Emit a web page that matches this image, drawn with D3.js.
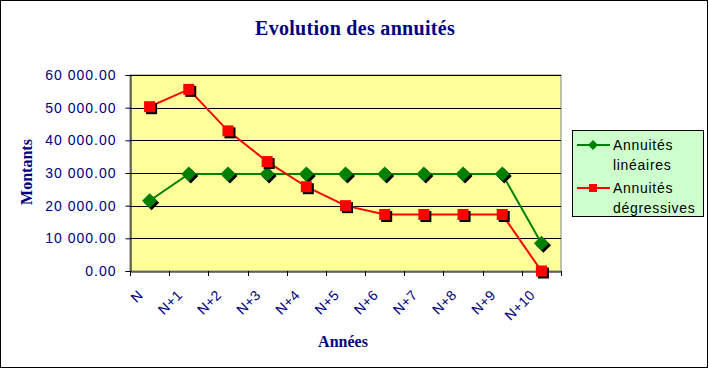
<!DOCTYPE html>
<html><head><meta charset="utf-8">
<script src="https://cdn.jsdelivr.net/npm/d3@7"></script>
<style>body{margin:0;background:#fff}</style>
</head><body><svg id="c" width="709" height="370"></svg>
<script>
const categories = ["N","N+1","N+2","N+3","N+4","N+5","N+6","N+7","N+8","N+9","N+10"];
const lineaires = [21500,29700,29700,29700,29700,29700,29700,29700,29700,29700,8500];
const degressives = [50300,55600,42900,33500,25800,20000,17300,17300,17300,17300,0];
const yTicks = [0,10000,20000,30000,40000,50000,60000];
const seriesNames = [["Annuités","linéaires"],["Annuités","dégressives"]];

const svg = d3.select("#c");
const navy = "#000080";
const sans = "Arial, 'Liberation Sans', sans-serif";
const serif = "'Liberation Serif','Times New Roman',serif";
svg.append("rect").attr("x",0.5).attr("y",0.5).attr("width",707).attr("height",367)
  .attr("fill","#fff").attr("stroke","#000").attr("stroke-width",1);

const L=130,R=561,T=75,B=271;
const x = d3.scaleBand().domain(categories).range([L,R]);
const y = d3.scaleLinear().domain([0,60000]).range([B,T]);

svg.append("rect").attr("x",L).attr("y",T).attr("width",R-L).attr("height",B-T)
  .attr("fill","#FFFF99").attr("stroke","#808080");

svg.append("g").selectAll("line").data(yTicks.slice(1)).join("line")
  .attr("x1",L).attr("x2",R).attr("y1",d=>Math.round(y(d))+0.5).attr("y2",d=>Math.round(y(d))+0.5)
  .attr("stroke","#000");

const fmt = v => d3.format(",.2f")(v).replace(/,/g," ");
const ya = svg.append("g").attr("transform",`translate(${L+0.5},0)`)
  .call(d3.axisLeft(y).tickValues(yTicks).tickFormat(fmt).tickSize(5).tickPadding(10));
ya.select(".domain").attr("stroke","#000");
ya.selectAll(".tick line").attr("stroke","#000");
ya.selectAll("text").attr("fill",navy).attr("font-family",sans).attr("font-size",14).attr("letter-spacing","1px").attr("dx","1");

const xa = svg.append("g").attr("transform",`translate(0,${B+0.5})`)
  .call(d3.axisBottom(x).tickSize(0).tickFormat(""));
xa.select(".domain").attr("stroke","#000");
const bounds = categories.map(c=>x(c)).concat([R]);
svg.append("g").selectAll("line").data(bounds).join("line")
  .attr("x1",d=>Math.round(d)+0.5).attr("x2",d=>Math.round(d)+0.5).attr("y1",B).attr("y2",B+5).attr("stroke","#000");

svg.append("g").selectAll("text").data(categories).join("text")
  .attr("transform",d=>`translate(${x(d)+x.bandwidth()/2-5.5},${B+25}) rotate(-45)`)
  .attr("text-anchor","end").attr("fill",navy)
  .attr("font-family",sans).attr("font-size",14).attr("letter-spacing","0.5px")
  .text(d=>d);

const cx = (d,i)=>x(categories[i])+x.bandwidth()/2;
function drawSeries(vals,color,shape){
  const line = d3.line().x((d,i)=>cx(d,i)).y(d=>y(d));
  svg.append("path").datum(vals).attr("d",line).attr("fill","none").attr("stroke",color).attr("stroke-width",2);
  const g = svg.append("g");
  vals.forEach((v,i)=>{
    const px=cx(v,i), py=y(v);
    if(shape==="diamond"){
      const s=7.5;
      const p=(ox,oy)=>`M${px+ox},${py+oy-s}L${px+ox+s},${py+oy}L${px+ox},${py+oy+s}L${px+ox-s},${py+oy}Z`;
      g.append("path").attr("d",p(2,2)).attr("fill","#000");
      g.append("path").attr("d",p(0,0)).attr("fill",color);
    } else {
      const s=5.5;
      g.append("rect").attr("x",px-s+2).attr("y",py-s+2).attr("width",2*s).attr("height",2*s).attr("fill","#000");
      g.append("rect").attr("x",px-s).attr("y",py-s).attr("width",2*s).attr("height",2*s).attr("fill",color);
    }
  });
}
drawSeries(lineaires,"#008000","diamond");
drawSeries(degressives,"#FF0000","square");

svg.append("text").attr("x",355).attr("y",35).attr("text-anchor","middle")
  .attr("fill",navy).attr("font-family",serif).attr("font-weight","bold").attr("font-size",20).attr("letter-spacing","0.3px")
  .text("Evolution des annuités");
svg.append("text").attr("transform","translate(32,172) rotate(-90)").attr("text-anchor","middle")
  .attr("fill",navy).attr("font-family",serif).attr("font-weight","bold").attr("font-size",16)
  .text("Montants");
svg.append("text").attr("x",343).attr("y",347).attr("text-anchor","middle")
  .attr("fill",navy).attr("font-family",serif).attr("font-weight","bold").attr("font-size",16)
  .text("Années");

// legend
const lg = svg.append("g");
lg.append("rect").attr("x",572.5).attr("y",130.5).attr("width",131).attr("height",86).attr("fill","#CCFFCC").attr("stroke","#000");
const legendItems=[{c:"#008000",s:"diamond",y:150},{c:"#FF0000",s:"square",y:193}];
legendItems.forEach((it,i)=>{
  lg.append("line").attr("x1",577).attr("x2",610).attr("y1",it.y-5).attr("y2",it.y-5).attr("stroke",it.c).attr("stroke-width",2);
  if(it.s==="diamond") lg.append("path").attr("d",`M593,${it.y-10}L598,${it.y-5}L593,${it.y}L588,${it.y-5}Z`).attr("fill",it.c);
  else lg.append("rect").attr("x",589).attr("y",it.y-9).attr("width",8).attr("height",8).attr("fill",it.c);
  seriesNames[i].forEach((t,j)=>lg.append("text").attr("x",613).attr("y",it.y+j*20)
    .attr("font-family",sans).attr("font-size",14).attr("letter-spacing","0.7px").attr("fill","#000").text(t));
});
</script></body></html>
